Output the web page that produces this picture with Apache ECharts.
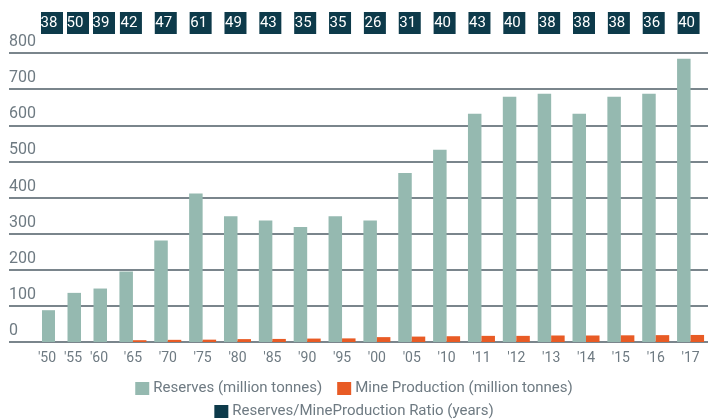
<!DOCTYPE html>
<html>
<head>
<meta charset="utf-8">
<script src="https://cdn.jsdelivr.net/npm/echarts@6/dist/echarts.min.js"></script>
<style>
html,body{margin:0;padding:0;background:#fff;}
#chart{width:708px;height:419px;}
</style>
</head>
<body>
<div id="chart"></div>
<script>
// Early years (drawn with narrower spacing in the reference)
var yearsEarly = ["'50", "'55", "'60"];
var reservesEarly = [88, 136, 148];
var productionEarly = [null, null, null];
var ratioEarly = [38, 50, 39];

// Later years
var yearsLate = ["'65", "'70", "'75", "'80", "'85", "'90", "'95", "'00", "'05", "'10", "'11", "'12", "'13", "'14", "'15", "'16", "'17"];
var reservesLate = [195, 281, 411, 348, 336, 318, 348, 336, 468, 532, 632, 679, 687, 632, 679, 687, 784];
var productionLate = [5, 6, 6.5, 8, 8.5, 9.5, 10, 13.5, 15, 16, 17, 17, 18, 18, 18.5, 19, 19.5];
var ratioLate = [42, 47, 61, 49, 43, 35, 35, 26, 31, 40, 43, 40, 38, 38, 38, 36, 40];

var yTicks = [0, 100, 200, 300, 400, 500, 600, 700, 800];

var NAME_RES = 'Reserves (million tonnes)';
var NAME_PROD = 'Mine Production (million tonnes)';
var NAME_RATIO = 'Reserves/MineProduction Ratio (years)';

var C_TEAL = '#95b9b0', C_ORANGE = '#e85b25', C_NAVY = '#0d3a4a';
var C_GRID = '#4e5c66', C_TEXT = '#6e7a82';
var FONT = 'Roboto';

var chart = echarts.init(document.getElementById('chart'), null, {renderer: 'canvas'});

var plotTop = 53, plotBottom = 77;
var yMin = yTicks[0], yMax = yTicks[yTicks.length - 1], yStep = yTicks[1] - yTicks[0];

function hiddenCatX(gridIndex, data, labelPad) {
  return {
    type: 'category', gridIndex: gridIndex, data: data,
    axisLine: {show: false}, axisTick: {show: false}, splitLine: {show: false},
    axisLabel: {show: labelPad !== undefined, color: C_TEXT, fontSize: 14, fontFamily: FONT, margin: 9,
      padding: labelPad || 0, interval: 0}
  };
}
function hiddenValY(gridIndex) {
  return {type: 'value', gridIndex: gridIndex, min: yMin, max: yMax, interval: yStep, show: false};
}
function stripY(gridIndex) {
  return {type: 'category', gridIndex: gridIndex, data: ['ratio'], show: false};
}

function ratioData(cats, vals) {
  return vals.map(function (v, i) { return [cats[i], 'ratio', v]; });
}

var option = {
  animation: false,
  textStyle: {fontFamily: FONT},
  grid: [
    {left: 9, right: 0, top: plotTop, bottom: plotBottom},            // 0: gridlines + y labels
    {left: 42, width: 78, top: plotTop, bottom: plotBottom},          // 1: early bars
    {left: 115.5, right: 0, top: plotTop, bottom: plotBottom},        // 2: late bars
    {left: 42, width: 78, top: 12, height: 22},                       // 3: early ratio strip
    {left: 115.5, right: 0, top: 12, height: 22}                      // 4: late ratio strip
  ],
  xAxis: [
    hiddenCatX(0, ['']),
    hiddenCatX(1, yearsEarly, [0, 16, 0, 0]),
    hiddenCatX(2, yearsLate, 0),
    hiddenCatX(3, yearsEarly),
    hiddenCatX(4, yearsLate)
  ],
  yAxis: [
    {
      type: 'value', gridIndex: 0, min: yMin, max: yMax, interval: yStep,
      axisLine: {show: false}, axisTick: {show: false},
      splitLine: {show: true, lineStyle: {color: C_GRID, width: 1.5}},
      axisLabel: {inside: true, margin: 0, color: C_TEXT, fontSize: 16, fontFamily: FONT,
        verticalAlign: 'bottom', padding: [0, 0, 3, 0]}
    },
    hiddenValY(1),
    hiddenValY(2),
    stripY(3),
    stripY(4)
  ],
  legend: [
    {
      data: [NAME_RES, NAME_PROD], left: 'center', top: 376,
      icon: 'rect', itemWidth: 14, itemHeight: 13, itemGap: 15,
      textStyle: {color: C_TEXT, fontSize: 15, fontFamily: FONT, padding: [0, 0, 0, -1]}
    },
    {
      data: [NAME_RATIO], left: 'center', top: 399,
      icon: 'rect', itemWidth: 14, itemHeight: 13,
      textStyle: {color: C_TEXT, fontSize: 15, fontFamily: FONT, padding: [0, 0, 0, -1]}
    }
  ],
  series: [
    {name: NAME_RES, type: 'bar', xAxisIndex: 1, yAxisIndex: 1, data: reservesEarly,
      barWidth: 13.5, barGap: '0%', itemStyle: {color: C_TEAL}},
    {name: NAME_PROD, type: 'bar', xAxisIndex: 1, yAxisIndex: 1, data: productionEarly,
      barWidth: 13.5, barGap: '0%', itemStyle: {color: C_ORANGE}},
    {name: NAME_RES, type: 'bar', xAxisIndex: 2, yAxisIndex: 2, data: reservesLate,
      barWidth: 13.5, barGap: '0%', itemStyle: {color: C_TEAL}},
    {name: NAME_PROD, type: 'bar', xAxisIndex: 2, yAxisIndex: 2, data: productionLate,
      barWidth: 13.5, barGap: '0%', itemStyle: {color: C_ORANGE}},
    {name: NAME_RATIO, type: 'scatter', xAxisIndex: 3, yAxisIndex: 3, data: ratioData(yearsEarly, ratioEarly),
      symbol: 'rect', symbolSize: [22, 22], symbolOffset: [-3, 0], itemStyle: {color: C_NAVY, opacity: 1},
      label: {show: true, position: 'inside', offset: [-3, 0], color: '#ffffff', fontSize: 15, fontFamily: FONT,
        formatter: function (p) { return p.value[2]; }}},
    {name: NAME_RATIO, type: 'scatter', xAxisIndex: 4, yAxisIndex: 4, data: ratioData(yearsLate, ratioLate),
      symbol: 'rect', symbolSize: [22, 22], symbolOffset: [-2, 0], itemStyle: {color: C_NAVY, opacity: 1},
      label: {show: true, position: 'inside', offset: [-2, 0], color: '#ffffff', fontSize: 15, fontFamily: FONT,
        formatter: function (p) { return p.value[2]; }}}
  ]
};
chart.setOption(option);
</script>
</body>
</html>
